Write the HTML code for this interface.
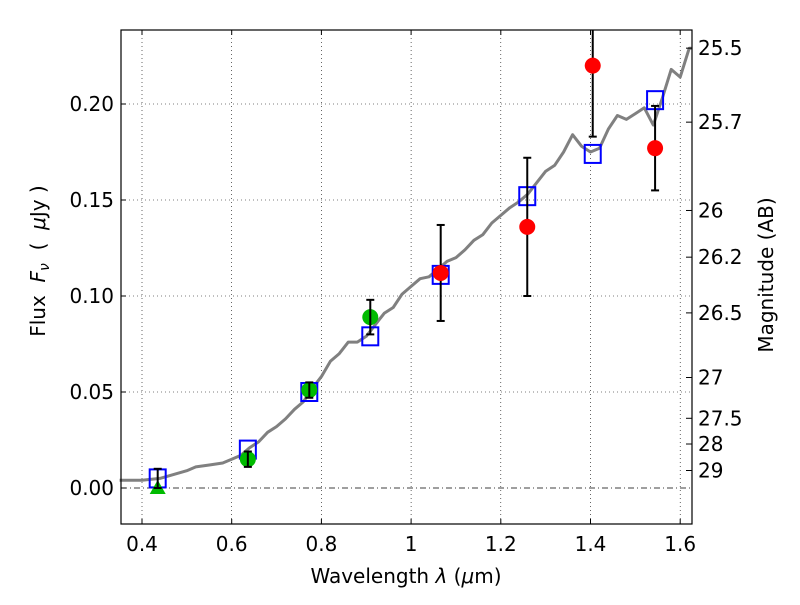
<!DOCTYPE html>
<html><head><meta charset="utf-8"><style>
body{margin:0;background:#fff}
svg text{font-family:"DejaVu Sans","Liberation Sans",sans-serif;fill:#000}
</style></head><body>
<svg width="800" height="600" viewBox="0 0 800 600">
<g id="grid"></g>
<line x1="121" y1="488" x2="692" y2="488" stroke="#000" stroke-width="0.8" stroke-dasharray="6,3,1,3"/>
<path id="spec" fill="none" stroke="#808080" stroke-width="3" stroke-linejoin="round"/>
<g id="marks"></g>
<rect x="121" y="30" width="571" height="494" fill="none" stroke="#000" stroke-width="1.2"/>
<g id="ticks"></g>
<text x="406" y="583" font-size="20" text-anchor="middle">Wavelength  <tspan font-style="italic">λ</tspan> (<tspan font-style="italic">μ</tspan>m)</text>
<text transform="translate(45,261) rotate(-90)" font-size="20" text-anchor="middle" xml:space="preserve">Flux  <tspan font-style="italic">F</tspan><tspan font-style="italic" font-size="14" dy="4">ν</tspan><tspan dy="-4">  (  </tspan><tspan font-style="italic">μ</tspan>Jy )</text>
<text transform="translate(773,275) rotate(-90)" font-size="20" text-anchor="middle">Magnitude (AB)</text>
</svg>
<script>
const xTicks=[0.4,0.6,0.8,1.0,1.2,1.4,1.6];
const xTickLabels=["0.4","0.6","0.8","1","1.2","1.4","1.6"];
const yTicks=[0,0.05,0.10,0.15,0.20];
const yTickLabels=["0.00","0.05","0.10","0.15","0.20"];
const magTicks=[25.5,25.7,26,26.2,26.5,27,27.5,28,29];
const magTickLabels=["25.5","25.7","26","26.2","26.5","27","27.5","28","29"];
const specX=[0.35,0.40,0.44,0.47,0.50,0.52,0.55,0.58,0.60,0.62,0.64,0.66,0.68,0.70,0.72,0.74,0.76,0.78,0.80,0.82,0.84,0.86,0.88,0.90,0.92,0.94,0.96,0.98,1.00,1.02,1.04,1.06,1.08,1.10,1.12,1.14,1.16,1.18,1.20,1.22,1.24,1.26,1.28,1.30,1.32,1.34,1.36,1.38,1.40,1.42,1.44,1.46,1.48,1.50,1.52,1.54,1.56,1.58,1.60,1.62,1.625];
const specY=[0.004,0.004,0.005,0.007,0.009,0.011,0.012,0.013,0.015,0.017,0.021,0.024,0.029,0.032,0.036,0.041,0.045,0.052,0.058,0.066,0.070,0.076,0.076,0.079,0.085,0.091,0.094,0.101,0.105,0.109,0.110,0.114,0.118,0.120,0.124,0.129,0.132,0.138,0.142,0.146,0.149,0.153,0.159,0.165,0.168,0.175,0.184,0.178,0.175,0.177,0.187,0.194,0.192,0.195,0.198,0.189,0.203,0.218,0.214,0.229,0.229];
const modelX=[0.435,0.636,0.773,0.909,1.066,1.259,1.405,1.544];
const modelY=[0.005,0.020,0.050,0.079,0.111,0.152,0.174,0.202];
const greenX=[0.636,0.773,0.909];
const greenY=[0.015,0.051,0.089];
const greenErr=[0.004,0.004,0.009];
const limitX=[0.435];
const limitY=[0.0];
const limitErrLo=[0.0];
const limitErrHi=[0.010];
const redX=[1.066,1.259,1.405,1.544];
const redY=[0.112,0.136,0.220,0.177];
const redErr=[0.025,0.036,0.037,0.022];

const NS="http://www.w3.org/2000/svg";
const X=v=>142+(v-0.4)*448.5;
const Y=v=>488-v*1920;
const magY=m=>Y(Math.pow(10,(23.9-m)/2.5));
function mk(tag,attrs,parent){const e=document.createElementNS(NS,tag);for(const k in attrs)e.setAttribute(k,attrs[k]);parent.appendChild(e);return e;}
const grid=document.getElementById('grid'),ticks=document.getElementById('ticks'),marks=document.getElementById('marks');
xTicks.forEach((t,i)=>{
 const g=mk('line',{x1:X(t),x2:X(t),y1:30,y2:524,stroke:'#000','stroke-width':0.6,'stroke-dasharray':'1,3'},grid);
 
 
 mk('line',{x1:X(t),x2:X(t),y1:30,y2:35,stroke:'#000'},ticks);
 mk('line',{x1:X(t),x2:X(t),y1:519,y2:524,stroke:'#000'},ticks);
 const l=mk('text',{x:X(t),y:551,'font-size':20,'text-anchor':'middle'},ticks);l.textContent=xTickLabels[i];
 
 
});
yTicks.forEach((t,i)=>{
 if(t!==0){const g=mk('line',{x1:121,x2:692,y1:Y(t),y2:Y(t),stroke:'#000','stroke-width':0.6,'stroke-dasharray':'1,3'},grid);
 
 }
 mk('line',{x1:121,x2:126,y1:Y(t),y2:Y(t),stroke:'#000'},ticks);
 const l=mk('text',{x:114,y:Y(t)+7,'font-size':20,'text-anchor':'end'},ticks);l.textContent=yTickLabels[i];
 
 
});
magTicks.forEach((m,i)=>{
 const y=magY(m);
 mk('line',{x1:686,x2:692,y1:y,y2:y,stroke:'#000'},ticks);
 const l=mk('text',{x:698,y:y+7,'font-size':20},ticks);l.textContent=magTickLabels[i];
 
 
});
document.getElementById('spec').setAttribute('d',specX.map((x,i)=>(i?'L':'M')+X(x).toFixed(1)+','+Y(specY[i]).toFixed(1)).join(''));
function errbar(x,lo,hi){
 const y1=Math.max(Y(hi),30),y2=Y(lo);
 mk('line',{x1:X(x),x2:X(x),y1:y1,y2:y2,stroke:'#000','stroke-width':2},marks);
 if(Y(hi)>=30)mk('line',{x1:X(x)-4,x2:X(x)+4,y1:y1,y2:y1,stroke:'#000','stroke-width':2},marks);
 mk('line',{x1:X(x)-4,x2:X(x)+4,y1:y2,y2:y2,stroke:'#000','stroke-width':2},marks);
}
modelX.forEach((x,i)=>{
 const r=mk('rect',{x:X(x)-8,y:Y(modelY[i])-9,width:16,height:18,fill:'none',stroke:'#0000ff','stroke-width':2},marks);
 
 
});
limitX.forEach((x,i)=>{
 const cx=X(x),cy=Y(limitY[i]);
 const p=mk('polygon',{points:`${cx},${cy-8} ${cx-8},${cy+6} ${cx+8},${cy+6}`,fill:'#00bb00'},marks);
 
 
 errbar(x,limitY[i]-limitErrLo[i],limitY[i]+limitErrHi[i]);
});
greenX.forEach((x,i)=>{
 const c=mk('circle',{cx:X(x),cy:Y(greenY[i]),r:8,fill:'#00bb00'},marks);
 
 
 errbar(x,greenY[i]-greenErr[i],greenY[i]+greenErr[i]);
});
redX.forEach((x,i)=>{
 errbar(x,redY[i]-redErr[i],redY[i]+redErr[i]);
 const c=mk('circle',{cx:X(x),cy:Y(redY[i]),r:8,fill:'#ff0000'},marks);
 
 
});
</script>
</body></html>
